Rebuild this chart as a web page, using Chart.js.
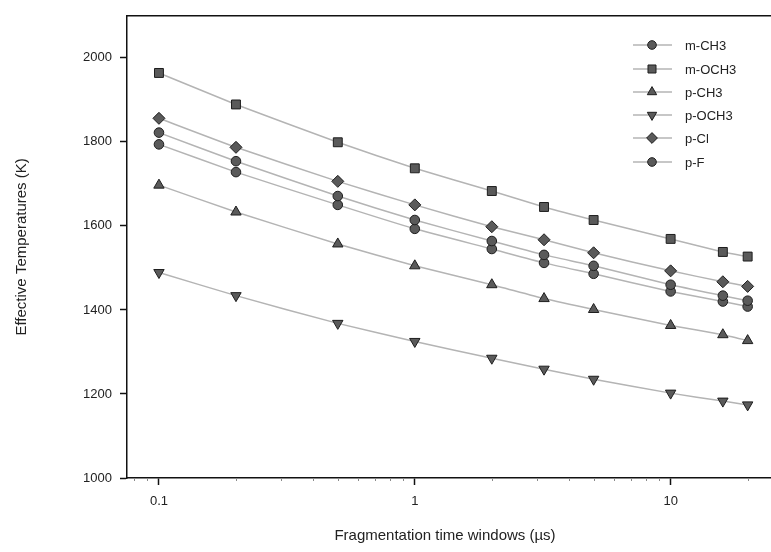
<!DOCTYPE html>
<html>
<head>
<meta charset="utf-8">
<title>Effective temperatures</title>
<script src="https://cdn.jsdelivr.net/npm/chart.js@4/dist/chart.umd.min.js"></script>
<style>
  html, body { margin: 0; padding: 0; background: #fff; overflow: hidden; }
</style>
</head>
<body>
<canvas id="chart" width="800" height="552"></canvas>
<script>
// fragmentation time windows (us)
var timeWindows = [0.1, 0.2, 0.5, 1, 2, 3.2, 5, 10, 16, 20];

var mCH3  = [1822, 1754, 1671, 1614, 1564, 1531, 1505, 1460, 1434, 1422];
var mOCH3 = [1964, 1889, 1799, 1737, 1683, 1645, 1614, 1569, 1538, 1527];
var pCH3  = [1697, 1633, 1557, 1505, 1460, 1427, 1401, 1363, 1341, 1327];
var pOCH3 = [1489, 1434, 1368, 1325, 1285, 1259, 1235, 1202, 1183, 1174];
var pCl   = [1856, 1787, 1706, 1650, 1598, 1567, 1536, 1493, 1467, 1456];
var pF    = [1794, 1728, 1650, 1593, 1545, 1512, 1486, 1444, 1420, 1408];

var seriesNames = ['m-CH3', 'm-OCH3', 'p-CH3', 'p-OCH3', 'p-Cl', 'p-F'];
var xTickLabels = [0.1, 1, 10];
var xMinorTicks = [0.08, 0.09, 0.2, 0.3, 0.4, 0.5, 0.6, 0.7, 0.8, 0.9,
                   2, 3, 4, 5, 6, 7, 8, 9, 20];
var yTicks = [1000, 1200, 1400, 1600, 1800, 2000];

var FONT = '"Liberation Sans", Arial, sans-serif';
var TEXT = '#222';
var LINE = '#b4b4b4';
var FILL = '#5a5a5a';
var EDGE = '#1e1e1e';

var markers = [
    { style: 'circle', radius: 4.8, rotation: 0 },
    { style: 'rect', radius: 6.3, rotation: 0 },
    { style: 'triangle', radius: 6, rotation: 0 },
    { style: 'triangle', radius: 6, rotation: 180 },
    { style: 'rectRot', radius: 6, rotation: 0 },
    { style: 'circle', radius: 4.8, rotation: 0 }
];

function toPoints(values) {
    return values.map(function (v, i) { return { x: timeWindows[i], y: v }; });
}

var seriesValues = [mCH3, mOCH3, pCH3, pOCH3, pCl, pF];

var datasets = seriesValues.map(function (vals, i) {
    return {
        label: seriesNames[i],
        data: toPoints(vals),
        borderColor: LINE,
        borderWidth: 1.5,
        tension: 0.15,
        pointStyle: markers[i].style,
        pointRadius: markers[i].radius,
        pointRotation: markers[i].rotation,
        pointBackgroundColor: FILL,
        pointBorderColor: EDGE,
        pointBorderWidth: 1
    };
});

// frame top line, minor log ticks, x title and the in-plot legend
var extras = {
    id: 'extras',
    afterDraw: function (chart) {
        var ctx = chart.ctx;
        var area = chart.chartArea;
        var xs = chart.scales.x;
        ctx.save();

        ctx.strokeStyle = '#111';
        ctx.lineWidth = 1.5;
        ctx.beginPath();
        ctx.moveTo(area.left, area.top);
        ctx.lineTo(area.right, area.top);
        ctx.stroke();

        ctx.strokeStyle = '#8a8a8a';
        ctx.lineWidth = 1;
        xMinorTicks.forEach(function (v) {
            var px = Math.round(xs.getPixelForValue(v)) + 0.5;
            ctx.beginPath();
            ctx.moveTo(px, area.bottom);
            ctx.lineTo(px, area.bottom + 3);
            ctx.stroke();
        });

        ctx.fillStyle = TEXT;
        ctx.font = '15px ' + FONT;
        ctx.textAlign = 'center';
        ctx.textBaseline = 'middle';
        ctx.fillText('Fragmentation time windows (\u00b5s)', 445, 536);

        // legend
        var rowY = [45, 69, 92, 115, 138, 162];
        datasets.forEach(function (ds, i) {
            var y = rowY[i];
            ctx.strokeStyle = LINE;
            ctx.lineWidth = 1.5;
            ctx.beginPath();
            ctx.moveTo(633, y);
            ctx.lineTo(672, y);
            ctx.stroke();
            ctx.fillStyle = FILL;
            ctx.strokeStyle = EDGE;
            ctx.lineWidth = 1;
            Chart.helpers.drawPoint(ctx, {
                pointStyle: ds.pointStyle,
                radius: ds.pointRadius * 0.9,
                rotation: ds.pointRotation,
                borderWidth: 1
            }, 652, y);
            ctx.fillStyle = TEXT;
            ctx.font = '13px ' + FONT;
            ctx.textAlign = 'left';
            ctx.textBaseline = 'middle';
            ctx.fillText(ds.label, 685, y + 1);
        });
        ctx.restore();
    }
};

new Chart(document.getElementById('chart').getContext('2d'), {
    type: 'line',
    data: { datasets: datasets },
    options: {
        responsive: false,
        animation: false,
        events: [],
        layout: { padding: { top: 13, right: 2, bottom: 0, left: 0 } },
        plugins: {
            legend: { display: false },
            tooltip: { enabled: false }
        },
        scales: {
            x: {
                type: 'logarithmic',
                min: 0.075,
                max: 30,
                afterBuildTicks: function (scale) {
                    scale.ticks = xTickLabels.map(function (v) { return { value: v, major: true }; });
                },
                afterFit: function (scale) { scale.height = 74; },
                ticks: {
                    autoSkip: false,
                    maxRotation: 0,
                    padding: 9,
                    color: TEXT,
                    font: { family: FONT, size: 13 },
                    callback: function (v) { return String(v); }
                },
                grid: {
                    drawOnChartArea: false,
                    drawTicks: true,
                    tickLength: 7,
                    tickWidth: 1.5,
                    tickColor: '#111'
                },
                border: { display: true, color: '#111', width: 1.5 }
            },
            y: {
                type: 'linear',
                min: 1000,
                max: 2100,
                afterBuildTicks: function (scale) {
                    scale.ticks = yTicks.map(function (v) { return { value: v }; });
                },
                afterFit: function (scale) { scale.width = 127; },
                ticks: {
                    padding: 8,
                    color: TEXT,
                    font: { family: FONT, size: 13 },
                    callback: function (v) { return String(v); }
                },
                grid: {
                    drawOnChartArea: false,
                    drawTicks: true,
                    tickLength: 7,
                    tickWidth: 1.5,
                    tickColor: '#111'
                },
                border: { display: true, color: '#111', width: 1.5 },
                title: {
                    display: true,
                    text: 'Effective Temperatures (K)',
                    color: TEXT,
                    font: { family: FONT, size: 15 },
                    padding: { top: 13, bottom: 0 }
                }
            }
        }
    },
    plugins: [extras]
});
</script>
</body>
</html>
